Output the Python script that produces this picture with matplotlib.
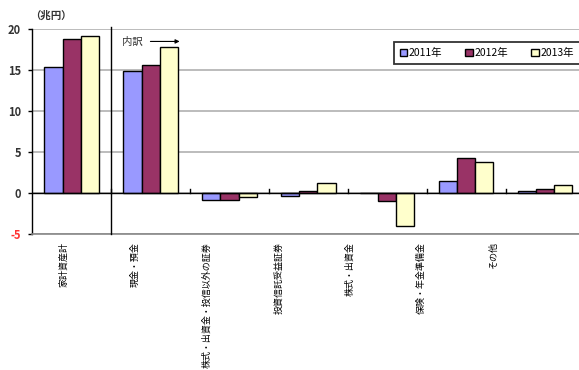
import matplotlib
matplotlib.use("Agg")
import matplotlib.pyplot as plt
import numpy as np

plt.rcParams['font.family'] = ['Noto Sans CJK JP', 'DejaVu Sans']

categories = ["家計資産計", "現金・預金", "株式・出資金・投信以外の証券",
              "投資信託受益証券", "株式・出資金", "保険・年金準備金", "その他"]
years = ["2011年", "2012年", "2013年"]
v2011 = [15.4, 14.9, -0.8, -0.4, 0.0, 1.5, 0.2]
v2012 = [18.8, 15.6, -0.8, 0.3, -1.0, 4.3, 0.5]
v2013 = [19.1, 17.8, -0.5, 1.2, -4.0, 3.8, 1.0]
yticks = [-5, 0, 5, 10, 15, 20]

colors = ["#9999FF", "#993366", "#FFFFCC"]

fig = plt.figure(figsize=(5.79, 3.70), dpi=100)
pos = [0.0553, 0.3676, 0.955, 0.554]
ax = fig.add_axes(pos)

x = np.arange(len(categories))
w = 0.228
for k, (vals, c, lab) in enumerate(zip([v2011, v2012, v2013], colors, years)):
    ax.bar(x + (k - 1) * w, vals, w, color=c, edgecolor="black",
           linewidth=1.0, label=lab, zorder=3)

ax.set_xlim(-0.5, len(categories) - 0.5)
ax.set_ylim(-5, 20)
ax.set_yticks(yticks)
ax.set_yticklabels([str(t) for t in yticks], fontsize=8, fontweight="bold")
for t, lbl in zip(yticks, ax.get_yticklabels()):
    lbl.set_color("#FF3333" if t < 0 else "#333333")
ax.tick_params(axis="y", direction="out", length=3, width=1, pad=5)
ax.yaxis.grid(True, color="#b0b0b0", linewidth=1.2, zorder=0)
ax.set_axisbelow(True)

for s in ["top", "right"]:
    ax.spines[s].set_visible(False)
ax.spines["left"].set_color("black")
ax.spines["left"].set_linewidth(1.0)
ax.spines["bottom"].set_color("#888888")
ax.spines["bottom"].set_linewidth(1.2)

# zero line with small upward ticks between groups
ax.axhline(0, color="black", linewidth=1.0, zorder=4)
ax.set_xticks([])
for b in x[1:] - 0.5:
    ax.plot([b, b], [0, 0.5], color="black", linewidth=1.0, zorder=4)

# separator between total and breakdown
ax.axvline(0.5, ymin=0, ymax=1.01, color="black", linewidth=1.0, zorder=4,
           clip_on=False)

# category labels
lax = fig.add_axes(pos, frameon=False)
lax.set_xlim(-0.4476, 7.287)
lax.set_ylim(0, 1)
lax.set_yticks([])
lax.set_xticks(x)
lax.set_xticklabels(categories, rotation=90, fontsize=6.5, va="top", ha="center")
lax.tick_params(axis="x", length=0, pad=6)

fig.text(0.052, 0.958, "（兆円）", fontsize=7.5, fontweight="bold",
         color="#333333", ha="left", va="center")
fig.text(0.211, 0.888, "内訳", fontsize=7.5, color="#333333",
         ha="left", va="center")
ax.annotate("", xy=(0.315, 0.888), xytext=(0.255, 0.888),
            xycoords="figure fraction",
            arrowprops=dict(arrowstyle="-|>", color="black", lw=0.8,
                            mutation_scale=6))

leg = ax.legend(loc="upper left", bbox_to_anchor=(0.645, 0.96), ncol=3,
                fontsize=7.5, frameon=True, fancybox=False,
                handlelength=0.7, handleheight=0.7, handletextpad=0.2,
                columnspacing=2.2, borderpad=0.55)
leg.get_frame().set_edgecolor("black")
leg.get_frame().set_linewidth(1.3)

fig.savefig("out.png", dpi=100)
